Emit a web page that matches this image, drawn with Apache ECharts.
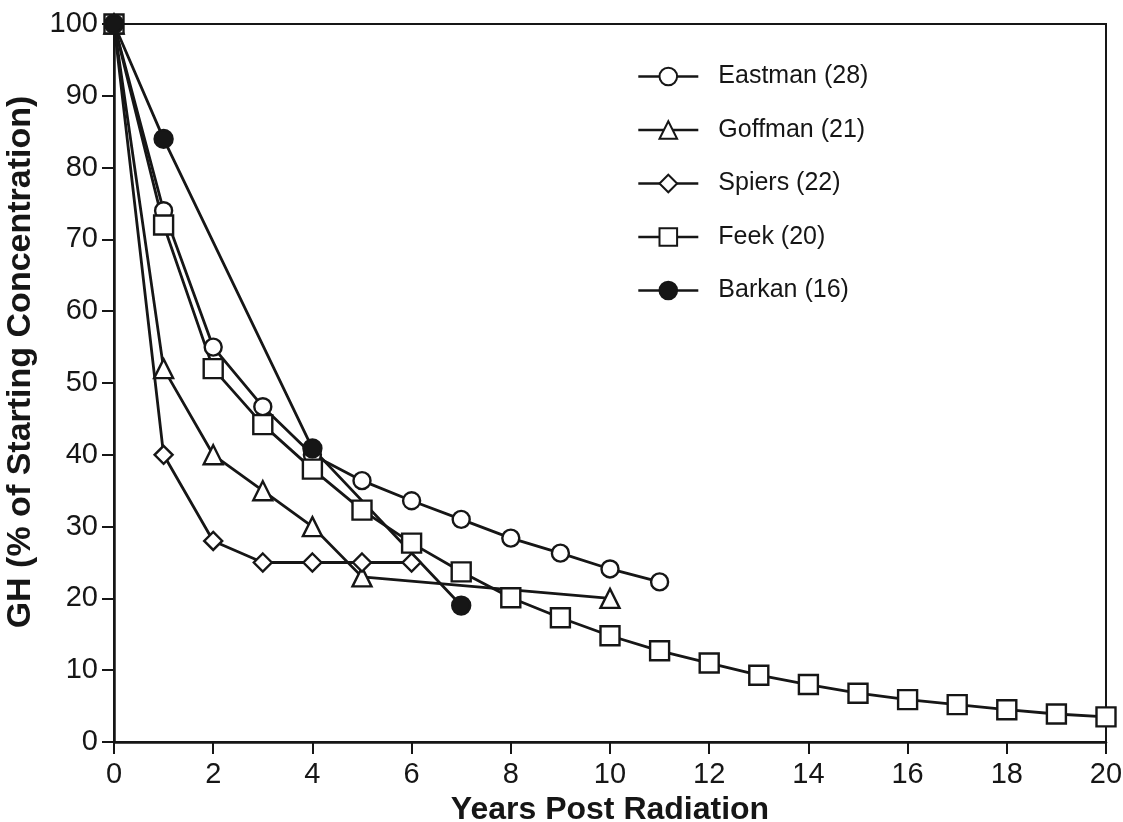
<!DOCTYPE html>
<html>
<head>
<meta charset="utf-8">
<script src="https://cdn.jsdelivr.net/npm/echarts@6/dist/echarts.min.js"></script>
<style>
  html, body { margin: 0; padding: 0; background: #fff; }
  #chart { width: 1123px; height: 822px; }
</style>
</head>
<body>
<div id="chart"></div>
<script>
// years post radiation for each study
const eastmanYears = [0, 1, 2, 3, 4, 5, 6, 7, 8, 9, 10, 11]
const eastmanGH = [100, 74, 55, 46.7, 40, 36.4, 33.6, 31, 28.4, 26.3, 24.1, 22.3]

const goffmanYears = [0, 1, 2, 3, 4, 5, 10]
const goffmanGH = [100, 52, 40, 35, 30, 23, 20]

const spiersYears = [0, 1, 2, 3, 4, 5, 6]
const spiersGH = [100, 40, 28, 25, 25, 25, 25]

const feekYears = [0, 1, 2, 3, 4, 5, 6, 7, 8, 9, 10, 11, 12, 13, 14, 15, 16, 17, 18, 19, 20]
const feekGH = [100, 72, 52, 44.2, 38, 32.3, 27.7, 23.7, 20.1, 17.3, 14.8, 12.7, 11, 9.3, 8, 6.8, 5.9, 5.2, 4.5, 3.9, 3.5]

const barkanYears = [0, 1, 4, 7]
const barkanGH = [100, 84, 40.9, 19]

const legendNames = ['Eastman (28)', 'Goffman (21)', 'Spiers (22)', 'Feek (20)', 'Barkan (16)']
const yTitle = 'GH (% of Starting Concentration)'
const xTitle = 'Years Post Radiation'

const ink = '#161616'
const pairs = (xs, ys) => xs.map((x, i) => [x, ys[i]])

//一条折线的公共样式
function makeSeries(name, xs, ys, symbol, size, fill) {
  return {
    name: name,
    type: 'line',
    data: pairs(xs, ys),
    symbol: symbol,
    symbolSize: size,
    showAllSymbol: true,
    lineStyle: { color: ink, width: 2.8 },
    itemStyle: { color: fill, borderColor: ink, borderWidth: 2.4, opacity: 1 },
    emphasis: { disabled: true },
    animation: false,
  }
}

let mycharts = echarts.init(document.getElementById('chart'))
mycharts.setOption({
  animation: false,
  textStyle: { fontFamily: 'Liberation Sans, Arial, sans-serif', color: ink },
  grid: {
    left: 114,
    right: 17,
    top: 24,
    bottom: 80,
    show: true,
    borderColor: ink,
    borderWidth: 2,
    outerBoundsMode: 'none',
  },
  legend: {
    orient: 'vertical',
    left: 632,
    top: 59,
    itemWidth: 60,
    itemHeight: 22,
    itemGap: 28.5,
    data: legendNames,
    lineStyle: { width: 2.6 },
    textStyle: { fontSize: 25, color: ink, padding: [0, 0, 0, 15] },
  },
  xAxis: {
    type: 'value',
    min: 0,
    max: 20,
    interval: 2,
    splitLine: { show: false },
    axisLine: { show: true, onZero: false, lineStyle: { color: ink, width: 2.5 } },
    axisTick: { show: true, length: 12, lineStyle: { color: ink, width: 2 } },
    axisLabel: { fontSize: 29, color: ink, margin: 18 },
    name: xTitle,
    nameLocation: 'middle',
    nameGap: 47,
    nameTextStyle: { fontSize: 32, fontWeight: 'bold', color: ink },
  },
  yAxis: {
    type: 'value',
    min: 0,
    max: 100,
    interval: 10,
    splitLine: { show: false },
    axisLine: { show: true, onZero: false, lineStyle: { color: ink, width: 2.5 } },
    axisTick: { show: true, length: 12, lineStyle: { color: ink, width: 2 } },
    axisLabel: { fontSize: 29, color: ink, margin: 16 },
  },
  //纵轴标题,位置比图区中心略高
  graphic: [
    {
      type: 'text',
      x: 21,
      y: 362,
      rotation: Math.PI / 2,
      style: {
        text: yTitle,
        fontSize: 34,
        fontWeight: 'bold',
        fontFamily: 'Liberation Sans, Arial, sans-serif',
        fill: ink,
        align: 'center',
        verticalAlign: 'middle',
      },
    },
  ],
  series: [
    makeSeries(legendNames[0], eastmanYears, eastmanGH, 'circle', 17, '#fff'),
    makeSeries(legendNames[1], goffmanYears, goffmanGH, 'triangle', 19, '#fff'),
    makeSeries(legendNames[2], spiersYears, spiersGH, 'diamond', 18, '#fff'),
    makeSeries(legendNames[3], feekYears, feekGH, 'rect', 19, '#fff'),
    makeSeries(legendNames[4], barkanYears, barkanGH, 'circle', 18, ink),
  ],
})
</script>
</body>
</html>
